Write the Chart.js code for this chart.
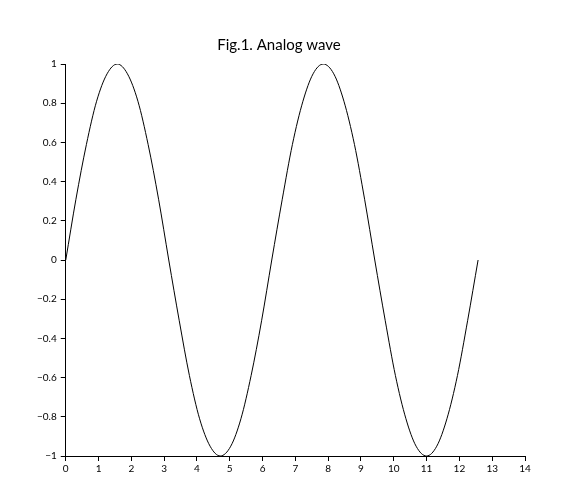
<!DOCTYPE html>
<html><head><meta charset="utf-8">
<script src="https://cdn.jsdelivr.net/npm/chart.js@4"></script>
<style>body{margin:0;background:#fff}</style></head>
<body><canvas id="c" width="568" height="500"></canvas>
<script>
const xValues=[0,0.31,0.63,0.94,1.26,1.57,1.88,2.2,2.51,2.83,3.14,3.46,3.77,4.08,4.4,4.71,5.03,5.34,5.65,5.97,6.28,6.6,6.91,7.23,7.54,7.85,8.17,8.48,8.8,9.11,9.42,9.74,10.05,10.37,10.68,11.0,11.31,11.62,11.94,12.25,12.57];
const yValues=[0,0.31,0.59,0.81,0.95,1,0.95,0.81,0.59,0.31,0,-0.31,-0.59,-0.81,-0.95,-1,-0.95,-0.81,-0.59,-0.31,0,0.31,0.59,0.81,0.95,1,0.95,0.81,0.59,0.31,0,-0.31,-0.59,-0.81,-0.95,-1,-0.95,-0.81,-0.59,-0.31,0];
const title="Fig.1. Analog wave";
const pts=xValues.map((x,i)=>({x,y:yValues[i]}));
const fmt=v=>String(Math.round(v*10)/10).replace('-','\u2212');
new Chart(document.getElementById('c'),{type:'line',
data:{datasets:[{data:pts,borderColor:'#000',borderWidth:1,pointRadius:0,cubicInterpolationMode:'monotone',fill:false}]},
options:{responsive:false,animation:false,
layout:{padding:{left:33,right:43,top:10,bottom:23}},
plugins:{legend:{display:false},title:{display:true,text:title,color:'#000',font:{family:'Lato',size:15,weight:'normal'},padding:{top:26,bottom:10}}},
scales:{
x:{type:'linear',min:0,max:14,border:{color:'#000'},grid:{drawOnChartArea:false,color:'#000',tickLength:5},
ticks:{stepSize:1,color:'#000',font:{family:'Lato',size:10},maxRotation:0,padding:2}},
y:{min:-1,max:1,border:{color:'#000'},grid:{drawOnChartArea:false,color:'#000',tickLength:5},
ticks:{stepSize:0.2,color:'#000',font:{family:'Lato',size:10},padding:4,callback:fmt}}}}});
</script></body></html>
